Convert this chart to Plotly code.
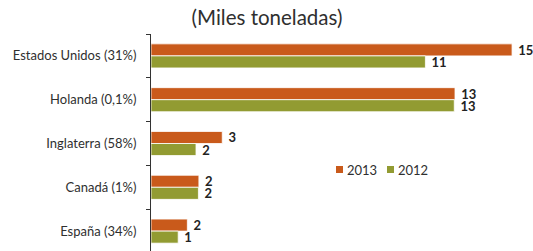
import plotly.graph_objects as go

categories = ["Estados Unidos (31%)", "Holanda (0,1%)", "Inglaterra (58%)", "Canadá (1%)", "España (34%)"]
values_2013 = [15.0, 12.63, 2.96, 1.99, 1.51]
values_2012 = [11.4, 12.6, 1.87, 1.97, 1.13]
series_names = ["2013", "2012"]
title_text = "(Miles toneladas)"

ORANGE = "#C95A1B"
GREEN = "#929B32"
FONT = "Lato, Open Sans, sans-serif"
TXT = "#2f2f2f"

W, H = 533, 251
L, R, T, B = 151, 5, 34, 0
PX_PER_UNIT = 24.07
X_MAX = (W - L - R) / PX_PER_UNIT

fig = go.Figure()
for name, vals, col in [(series_names[0], values_2013, ORANGE),
                        (series_names[1], values_2012, GREEN)]:
    fig.add_trace(go.Bar(
        y=categories, x=vals, name=name, orientation="h",
        marker=dict(color=col, line=dict(color="white", width=0.8)),
        texttemplate=" %{x:.0f}", textposition="outside", cliponaxis=False,
        constraintext="none",
        textfont=dict(family=FONT, size=13, color="#222", weight="bold"),
        showlegend=False, hoverinfo="skip",
    ))

# custom legend (square + label), positioned in pixels converted to paper coords
pw, ph = W - L - R, H - T - B
def px(x):
    return (x - L) / pw
def py(y):
    return 1 - (y - T) / ph

legend_items = [(series_names[0], ORANGE, 336), (series_names[1], GREEN, 387)]
annotations = []
shapes = []
for name, col, x0 in legend_items:
    shapes.append(dict(type="rect", xref="paper", yref="paper",
                       x0=px(x0), x1=px(x0 + 7), y0=py(173), y1=py(166),
                       fillcolor=col, line=dict(width=0)))
    annotations.append(dict(text=name, xref="paper", yref="paper",
                            x=px(x0 + 9), y=py(170), xanchor="left", yanchor="middle",
                            showarrow=False,
                            font=dict(family=FONT, size=13, color=TXT)))

fig.update_layout(
    width=W, height=H,
    margin=dict(l=L, r=R, t=T, b=B, autoexpand=False),
    paper_bgcolor="white", plot_bgcolor="white",
    barmode="group", bargap=0.45, bargroupgap=0,
    font=dict(family=FONT, size=13, color=TXT),
    title=dict(text=title_text, x=267 / W, xref="container", xanchor="center",
               y=1 - 17.5 / H, yanchor="middle",
               font=dict(family=FONT, size=20.5, color=TXT)),
    xaxis=dict(range=[0, X_MAX], visible=False, showgrid=False, zeroline=False),
    yaxis=dict(type="category", categoryorder="array", categoryarray=categories,
               range=[4.454, -0.5], autorange=False, automargin=False,
               showline=True, linecolor="#333", linewidth=1,
               ticks="outside", ticklen=4, tickcolor="#333", tickson="boundaries",
               showgrid=False, ticklabelstandoff=11,
               tickfont=dict(family=FONT, size=13, color=TXT)),
    showlegend=False,
    annotations=annotations,
    shapes=shapes,
)

fig.write_html("out.html", config={"displayModeBar": False},
               post_script="document.body.style.margin='0';document.body.style.overflow='hidden';")
